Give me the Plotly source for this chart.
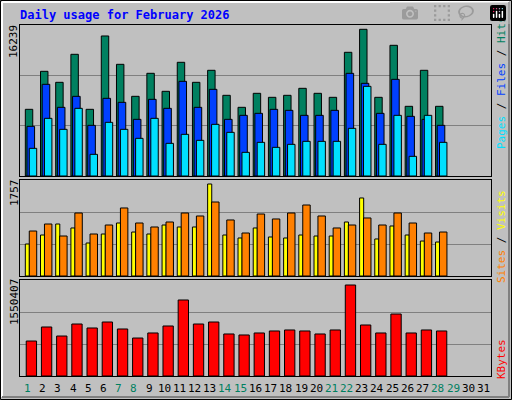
import plotly.graph_objects as go

days = list(range(1, 29))
hits = [7381, 11588, 10370, 13470, 7381, 15500, 12363, 8820, 11367, 9374, 12585, 10370, 11699, 8931, 7603, 9152, 8710, 8931, 9706, 9152, 8710, 13692, 16239, 8710, 14467, 7713, 11699, 7713]
files = [5498, 10148, 7601, 8819, 5609, 8598, 8155, 6273, 8487, 7491, 10480, 7601, 9594, 6273, 6716, 6937, 7380, 7269, 6716, 6716, 7269, 11365, 10258, 6937, 10701, 6605, 6273, 5609]
pages = [3063, 6384, 5166, 7491, 2399, 5941, 5166, 4170, 6384, 3616, 4613, 3948, 5720, 4834, 2620, 3727, 3173, 3506, 3838, 3838, 3838, 5277, 9926, 3506, 6716, 2177, 6716, 3727]
visits = [611, 783, 993, 917, 630, 802, 1012, 840, 802, 974, 936, 936, 1757, 783, 726, 917, 745, 726, 783, 764, 764, 1031, 1490, 707, 955, 783, 668, 649]
sites = [859, 993, 764, 1203, 802, 974, 1299, 1012, 936, 1031, 1203, 1146, 1413, 1070, 821, 1184, 1089, 1203, 1356, 1146, 917, 974, 1108, 974, 1203, 1012, 821, 840]
kbytes = [596000, 835000, 681000, 886000, 818000, 920000, 801000, 647000, 733000, 852000, 1295000, 886000, 920000, 716000, 699000, 733000, 767000, 784000, 767000, 716000, 784000, 1550407, 869000, 733000, 1056000, 733000, 784000, 767000]
day_labels = [str(d) for d in range(1, 32)]
weekend = {1, 7, 8, 14, 15, 21, 22, 28, 29}

L, R, T, B = 20, 491, 25, 376
def px(x): return (x - L) / (R - L)
def py(y): return (B - y) / (B - T)

FONT = "DejaVu Sans Mono"
fig = go.Figure()
def bar(x, y, color, off, w, ax):
    fig.add_trace(go.Bar(x=x, y=y, offset=off, width=w, marker=dict(color=color, line=dict(color="black", width=1)),
                         xaxis="x" if ax == 1 else f"x{ax}", yaxis="y" if ax == 1 else f"y{ax}", showlegend=False, hoverinfo="skip"))

bar(days, hits, "#008060", -0.15, 0.49, 1)
bar(days, files, "#0040FF", -0.04, 0.50, 1)
bar(days, pages, "#00E0FF", 0.11, 0.49, 1)
bar(days, visits, "#FFFF00", -0.15, 0.27, 2)
bar(days, sites, "#FF8000", 0.11, 0.49, 2)
bar(days, kbytes, "#FF0000", -0.09, 0.68, 3)

ranges = [16239 * 151 / 146.7, 1757 * 96 / 92, 1550407 * 96 / 91]
doms = [[py(176), 1], [py(276), py(180)], [0, py(280)]]
lay = dict(barmode="overlay", width=512, height=400, margin=dict(l=L, r=512 - R, t=T, b=400 - B),
           paper_bgcolor="#C0C0C0", plot_bgcolor="#C0C0C0", font=dict(family=FONT))
for i in range(3):
    s = "" if i == 0 else str(i + 1)
    r = ranges[i]
    lay["xaxis" + s] = dict(range=[0.5, 31.5], domain=[0, 1], anchor="y" + s, showticklabels=False, ticks="",
                            showgrid=False, zeroline=False, showline=True, mirror=True, linecolor="black", linewidth=1, fixedrange=True)
    lay["yaxis" + s] = dict(range=[0, r], domain=doms[i], anchor="x" + s, tickvals=[r / 3, 2 * r / 3], showticklabels=False,
                            ticks="", gridcolor="#808080", gridwidth=1, zeroline=False, showline=True, mirror=True,
                            linecolor="black", linewidth=1, fixedrange=True)
fig.update_layout(**lay)

ann = []
def a(x, y, text, color="black", size=11, angle=0, xanchor="center", bold=False):
    ann.append(dict(x=px(x), y=py(y), xref="paper", yref="paper", text=f"<b>{text}</b>" if bold else text,
                    showarrow=False, textangle=angle, xanchor=xanchor, yanchor="middle",
                    font=dict(family=FONT, size=size, color=color)))

a(18, 15, "Daily usage for February 2026", "#0000FF", 12, 0, "left", True)
for i, lab in enumerate(day_labels):
    a(L + (i + 0.5) * (R - L) / 31, 388, lab, "#008060" if (i + 1) in weekend else "black", 11)
a(14, 42, str(max(hits)), angle=-90)
a(14, 193, str(max(visits)), angle=-90)
a(14, 302, str(max(kbytes)), angle=-90)
a(501, 83, "<span style='color:#00E0FF'>Pages</span> / <span style='color:#0040FF'>Files</span> / <span style='color:#008060'>Hits</span>", angle=-90)
a(501, 237, "<span style='color:#FF8000'>Sites</span> / <span style='color:#FFFF00'>Visits</span>", angle=-90)
a(501, 359, "<span style='color:#FF0000'>KBytes</span>", angle=-90)
fig.update_layout(annotations=ann)

shapes = [
    dict(type="rect", xref="paper", yref="paper", x0=px(0.5), y0=py(399.5), x1=px(511.5), y1=py(0.5), line=dict(color="black", width=1)),
    dict(type="line", xref="paper", yref="paper", x0=px(2), y0=py(2), x1=px(509), y1=py(2), line=dict(color="white", width=2)),
    dict(type="line", xref="paper", yref="paper", x0=px(2), y0=py(2), x1=px(2), y1=py(397), line=dict(color="white", width=2)),
    dict(type="line", xref="paper", yref="paper", x0=px(2), y0=py(397), x1=px(509), y1=py(397), line=dict(color="#808080", width=2)),
    dict(type="line", xref="paper", yref="paper", x0=px(509), y0=py(2), x1=px(509), y1=py(397), line=dict(color="#808080", width=2)),
]
fig.update_layout(shapes=shapes)
fig.write_html("out.html", post_script="document.body.style.margin='0';document.body.style.overflow='hidden';")
